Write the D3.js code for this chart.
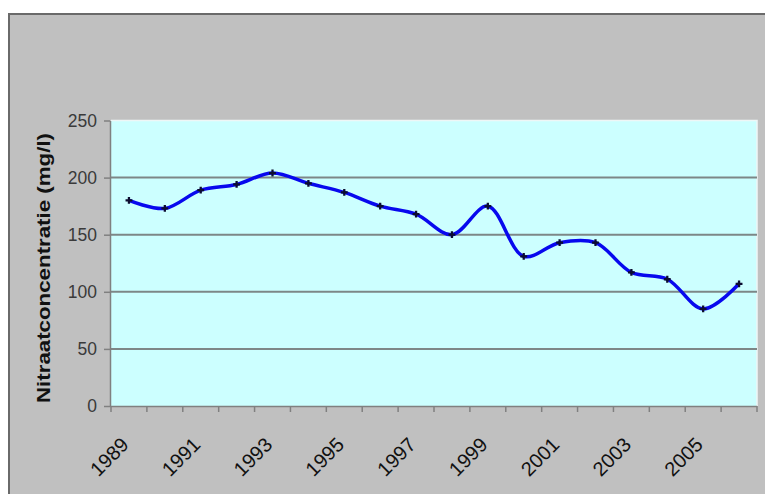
<!DOCTYPE html>
<html>
<head>
<meta charset="utf-8">
<script src="https://cdn.jsdelivr.net/npm/d3@7"></script>
<style>
    body { margin: 0; background: #fff; }
    text { font-family: "Liberation Sans", Arial, sans-serif; }
</style>
</head>
<body>
<div id="graph-container"></div>
<script>
const years = ['1989', '1990', '1991', '1992', '1993', '1994', '1995', '1996', '1997',
    '1998', '1999', '2000', '2001', '2002', '2003', '2004', '2005', '2006'];
const nitrate = [180, 173, 189, 194, 204, 195, 187, 175, 168,
    150, 175, 131, 143, 143, 117, 111, 85, 107];
const yTicks = [0, 50, 100, 150, 200, 250];
const yTitle = 'Nitraatconcentratie (mg/l)';

const width = 765;
const height = 494;
const plot = { left: 111, right: 757, top: 120.5, bottom: 406 };

const svg = d3.select('#graph-container')
    .append('svg')
    .attr('width', width)
    .attr('height', height);

// outer chart area
svg.append('rect')
    .attr('x', 8)
    .attr('y', 13)
    .attr('width', width - 8)
    .attr('height', height - 13)
    .attr('fill', '#c0c0c0');

svg.append('line')
    .attr('x1', 8).attr('x2', width)
    .attr('y1', 14).attr('y2', 14)
    .attr('stroke', '#6a6a6a')
    .attr('stroke-width', 2);

svg.append('line')
    .attr('x1', 9).attr('x2', 9)
    .attr('y1', 13).attr('y2', height)
    .attr('stroke', '#6a6a6a')
    .attr('stroke-width', 2);

// Scale
const xScale = d3.scaleBand()
    .domain(years)
    .range([plot.left, plot.right]);

const yScale = d3.scaleLinear()
    .domain([0, 250])
    .range([plot.bottom, plot.top]);

// plot background
svg.append('rect')
    .attr('x', plot.left)
    .attr('y', plot.top)
    .attr('width', plot.right - plot.left)
    .attr('height', plot.bottom - plot.top)
    .attr('fill', '#ccffff');

svg.append('path')
    .attr('d', `M${plot.left},${plot.top}H${plot.right}V${plot.bottom}`)
    .attr('fill', 'none')
    .attr('stroke', '#eef6f6')
    .attr('stroke-width', 1.5);

// gridlines
svg.append('g')
    .selectAll('line')
    .data(yTicks.filter((v) => v > 0 && v < 250))
    .join('line')
    .attr('x1', plot.left)
    .attr('x2', plot.right)
    .attr('y1', (d) => yScale(d))
    .attr('y2', (d) => yScale(d))
    .attr('stroke', '#7d8787')
    .attr('stroke-width', 2);

// yAxis
const yAxis = d3.axisLeft(yScale)
    .tickValues(yTicks)
    .tickSizeInner(6)
    .tickSizeOuter(0)
    .tickPadding(7);

const yG = svg.append('g')
    .attr('transform', `translate(${plot.left - 1},0)`)
    .call(yAxis);
yG.select('.domain').attr('stroke', '#808080').attr('stroke-width', 1.5);
yG.selectAll('.tick line').attr('stroke', '#808080').attr('stroke-width', 1.5);
yG.selectAll('.tick text')
    .attr('font-size', 17.5)
    .attr('fill', '#3a3a3a');

// X Axis, ticks on category boundaries
svg.append('line')
    .attr('x1', plot.left - 1)
    .attr('x2', plot.right)
    .attr('y1', plot.bottom + 0.5)
    .attr('y2', plot.bottom + 0.5)
    .attr('stroke', '#808080')
    .attr('stroke-width', 1.5);

svg.append('g')
    .selectAll('line')
    .data(years.concat(['end']))
    .join('line')
    .attr('x1', (d, i) => plot.left + i * xScale.step())
    .attr('x2', (d, i) => plot.left + i * xScale.step())
    .attr('y1', plot.bottom)
    .attr('y2', plot.bottom + 6)
    .attr('stroke', '#808080')
    .attr('stroke-width', 1.5);

svg.append('g')
    .selectAll('text')
    .data(years.filter((d, i) => i % 2 === 0))
    .join('text')
    .attr('transform', (d) => `translate(${xScale(d) + xScale.bandwidth() / 2 + 1},446) rotate(-45)`)
    .attr('text-anchor', 'end')
    .attr('font-size', 20)
    .attr('fill', '#111')
    .text((d) => d);

// Axis title
svg.append('text')
    .attr('transform', 'translate(50,268) rotate(-90)')
    .attr('text-anchor', 'middle')
    .attr('font-size', 18)
    .attr('font-weight', 'bold')
    .attr('fill', '#111')
    .attr('textLength', 270)
    .attr('lengthAdjust', 'spacingAndGlyphs')
    .text(yTitle);

// Graph line
const lineFunction = d3.line()
    .x((d, i) => xScale(years[i]) + xScale.bandwidth() / 2)
    .y((d) => yScale(d))
    .curve(d3.curveCatmullRom.alpha(0.5));

svg.append('path')
    .attr('d', lineFunction(nitrate))
    .attr('stroke', '#0808ee')
    .attr('stroke-width', 3.5)
    .attr('fill', 'none');

// markers
const marker = d3.symbol().type(d3.symbolCross).size(26);

svg.append('g')
    .selectAll('path')
    .data(nitrate)
    .join('path')
    .attr('transform', (d, i) => `translate(${xScale(years[i]) + xScale.bandwidth() / 2},${yScale(d)})`)
    .attr('d', marker)
    .attr('fill', '#0c0c30');
</script>
</body>
</html>
